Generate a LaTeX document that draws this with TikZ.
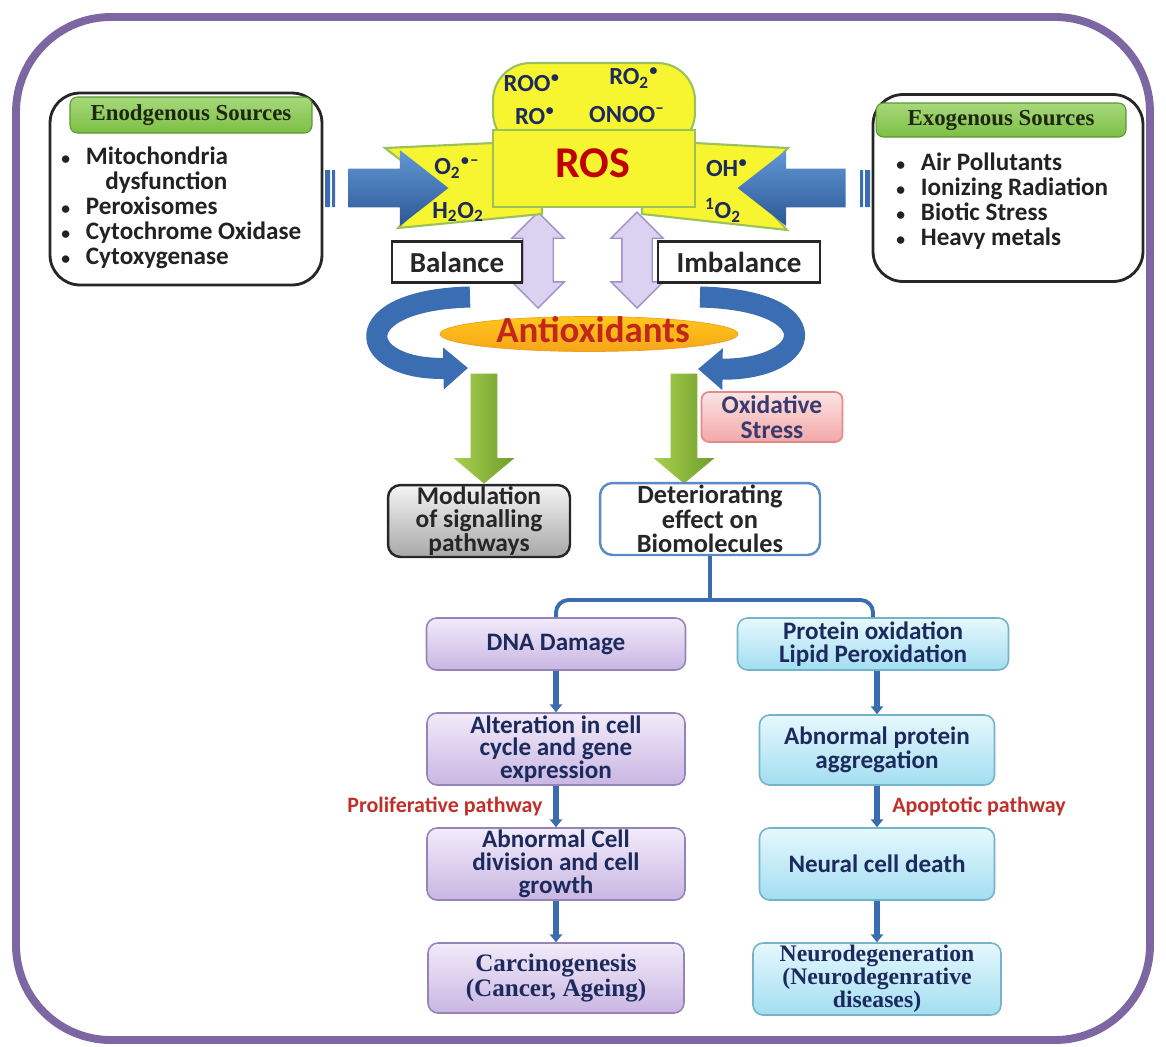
\documentclass[tikz,border=0pt]{standalone}
\usepackage{fontspec}
\setmainfont{Carlito}
\newfontfamily\headfont{Liberation Serif}
\usetikzlibrary{shapes.geometric,shapes.arrows,arrows.meta}

\definecolor{framepurple}{HTML}{7D67A3}
\definecolor{rosyellow}{HTML}{F7F52F}
\definecolor{rosedge}{HTML}{9CC15A}
\definecolor{rosred}{HTML}{C00000}
\definecolor{navy}{HTML}{1C2A5E}
\definecolor{headgreen}{HTML}{7DBF45}
\definecolor{headgreenlight}{HTML}{A6D97A}
\definecolor{headgreendark}{HTML}{5C9636}
\definecolor{headtext}{HTML}{1F2614}
\definecolor{listtext}{HTML}{222222}
\definecolor{inblue}{HTML}{3B6DB2}
\definecolor{inbluelight}{HTML}{6497D6}
\definecolor{inbluedark}{HTML}{2A5894}
\definecolor{lav}{HTML}{DBD1F0}
\definecolor{lavedge}{HTML}{9F90C6}
\definecolor{arrgreenlight}{HTML}{A9D150}
\definecolor{arrgreendark}{HTML}{6F9E2C}
\definecolor{oxtop}{HTML}{FCE4E4}
\definecolor{oxbottom}{HTML}{F3A7A7}
\definecolor{oxedge}{HTML}{E48A8A}
\definecolor{oxtext}{HTML}{3A3A6E}
\definecolor{modtop}{HTML}{F4F4F4}
\definecolor{modbottom}{HTML}{A8A8A8}
\definecolor{detedge}{HTML}{5B8BC5}
\definecolor{flowblue}{HTML}{3A6CB0}
\definecolor{purtop}{HTML}{F2EBFA}
\definecolor{purbottom}{HTML}{C9B6E2}
\definecolor{puredge}{HTML}{9584BA}
\definecolor{cyantop}{HTML}{E6F8FD}
\definecolor{cyanbottom}{HTML}{A2DEF1}
\definecolor{cyanedge}{HTML}{74B3CA}
\definecolor{pathred}{HTML}{C0302A}
\definecolor{antitop}{HTML}{FFC81A}
\definecolor{antibottom}{HTML}{F6A41A}
\definecolor{antiedge}{HTML}{EFA020}
\definecolor{antired}{HTML}{C3271C}

\newcommand{\lbul}{\makebox[14pt][l]{\fontsize{10}{10}\selectfont\textbullet}}
\newcommand{\rad}{$^{\bullet}$}

\begin{document}
\begin{tikzpicture}[x=0.02cm, y=-0.02cm,
    srcbox/.style={draw=black!85, line width=1.6pt, fill=white, rounded corners=0.6cm},
    srchead/.style={draw=headgreendark, line width=0.6pt, top color=headgreenlight, bottom color=headgreen,
      rounded corners=0.15cm, text=headtext, font=\headfont\bfseries\fontsize{13}{13}\selectfont},
    srclist/.style={align=left, inner sep=0pt, text=listtext, font=\bfseries\fontsize{14.3}{14.2}\selectfont},
    inarrow/.style={single arrow, inner xsep=0pt, inner ysep=0.38cm, minimum width=1.5cm,
      single arrow head extend=0.37cm, single arrow tip angle=76, draw=none,
      top color=inbluelight, bottom color=inbluedark},
    lavarrow/.style={double arrow, rotate=90, inner xsep=0pt, inner ysep=0.29cm, minimum width=1.02cm,
      double arrow head extend=0.22cm, fill=lav, draw=lavedge, line width=0.8pt},
    greenarrow/.style={single arrow, rotate=-90, inner xsep=0pt, inner ysep=0.26cm, minimum width=1.2cm,
      single arrow head extend=0.34cm, single arrow tip angle=100, left color=arrgreenlight,
      right color=arrgreendark, draw=none},
    rosshape/.style={fill=rosyellow, draw=rosedge, line width=1.2pt},
    statebox/.style={draw=black!85, line width=1.2pt, fill=white, minimum height=0.82cm,
      font=\bfseries\fontsize{16.5}{16.5}\selectfont, text=black!85},
    bentarrow/.style={draw=inblue, line width=12pt, -{Triangle[width=23pt,length=14pt]}},
    bracket/.style={draw=flowblue, line width=2.2pt, rounded corners=0.25cm},
    flow/.style={draw=flowblue, line width=3.4pt, -{Triangle[width=7pt,length=4.5pt]}},
    pathlabel/.style={text=pathred, font=\bfseries\fontsize{12.5}{12.5}\selectfont}
  ]
  \useasboundingbox (0,0) rectangle (1166,1046);
  \draw[framepurple, line width=4.5pt, rounded corners=1.9cm] (16,17) rectangle (1150,1040);

  \node[srcbox, minimum width=5.44cm, minimum height=3.84cm] (endo) at (186,189) {};
  \node[srchead, minimum width=4.84cm, minimum height=0.72cm] (endohead) at (191,115) {Enodgenous Sources};
  \node[srclist, anchor=west] (endolist) at (61,208) {%
    \lbul Mitochondria\\
    \hspace*{25pt}dysfunction\\
    \lbul Peroxisomes\\
    \lbul Cytochrome Oxidase\\
    \lbul Cytoxygenase};

  \node[srcbox, minimum width=5.4cm, minimum height=3.74cm] (exo) at (1008,188) {};
  \node[srchead, minimum width=5cm, minimum height=0.68cm] (exohead) at (1001,120) {Exogenous Sources};
  \node[srclist, anchor=west] (exolist) at (896,201) {%
    \lbul Air Pollutants\\
    \lbul Ionizing Radiation\\
    \lbul Biotic Stress\\
    \lbul Heavy metals};

  \node[lavarrow, minimum height=1.92cm] (balarr) at (538,260) {};
  \node[lavarrow, minimum height=1.92cm] (imbarr) at (637,260) {};

  \path[rosshape] (493,143) -- (385,148) -- (437,188) -- (398,228) -- (542,214) -- (542,190) -- cycle;
  \path[rosshape] (695,143) -- (788,148) -- (750,188) -- (787,230) -- (642,214) -- (642,190) -- cycle;
  \path[rosshape, rounded corners=0.75cm] (493,63) rectangle (695,150);
  \path[rosshape] (493,130) rectangle (695,207);

  \begin{scope}[every node/.style={text=navy, inner sep=0pt, font=\bfseries\fontsize{14}{14}\selectfont}]
    \node (roo)  at (532,83)  {ROO\rad};
    \node (ro2)  at (634,78)  {RO\textsubscript{2}\rad};
    \node (ro)   at (535,116) {RO\rad};
    \node (onoo) at (627,115) {ONOO\textsuperscript{--}};
    \node (o2)   at (457,168) {O\textsubscript{2}\rad\textsuperscript{--}};
    \node (h2o2) at (458,212) {H\textsubscript{2}O\textsubscript{2}};
    \node (oh)   at (727,168) {OH\rad};
    \node (sing) at (723,210) {\textsuperscript{1}O\textsubscript{2}};
  \end{scope}
  \node[text=rosred, font=\bfseries\fontsize{25}{25}\selectfont] (ros) at (593,163) {ROS};

  \node[inarrow, minimum height=2cm] (endoin) at (386,188) {};
  \node[inarrow, minimum height=2.16cm, rotate=180] (exoin) at (804,188) {};
  \fill[inblue] (325,170) rectangle (330,207) (332,170) rectangle (335,207);
  \fill[inblue] (860,170) rectangle (863,207) (865,170) rectangle (870,207);

  \node[statebox, minimum width=2.6cm] (bal) at (457,262) {Balance};
  \node[statebox, minimum width=3.24cm] (imb) at (739,262) {Imbalance};

  \coordinate (balfrom) at (470,297);
  \coordinate (balto) at (468,368);
  \coordinate (imbfrom) at (700,297);
  \coordinate (imbto) at (698,369);
  \draw[bentarrow] (balfrom) .. controls (345,300) and (355,370) .. (balto);
  \draw[bentarrow] (imbfrom) .. controls (830,300) and (815,370) .. (imbto);

  \node[ellipse, minimum width=5.96cm, minimum height=0.7cm, inner sep=0pt, top color=antitop,
    bottom color=antibottom, draw=antiedge] (antishape) at (589,334) {};
  \node[text=antired, font=\bfseries\fontsize{21}{21}\selectfont] (anti) at (593,330) {Antioxidants};

  \node[greenarrow, minimum height=2.2cm] (balgreen) at (484,423) {};
  \node[greenarrow, minimum height=2.2cm] (imbgreen) at (684,423) {};

  \node[draw=oxedge, line width=1pt, top color=oxtop, bottom color=oxbottom, rounded corners=0.15cm,
    minimum width=2.82cm, minimum height=1cm, align=center, text=oxtext, inner sep=0pt,
    font=\bfseries\fontsize{14.5}{14.5}\selectfont] (ox) at (772,417) {Oxidative\\Stress};

  \node[draw=black!85, line width=1.4pt, top color=modtop, bottom color=modbottom, rounded corners=0.25cm,
    minimum width=3.64cm, minimum height=1.44cm, align=center, inner sep=0pt, text=black!85,
    font=\bfseries\fontsize{14.5}{13.2}\selectfont] (mod) at (479,521) {Modulation\\of signalling\\pathways};
  \node[draw=detedge, line width=1.4pt, fill=white, rounded corners=0.25cm,
    minimum width=4.4cm, minimum height=1.44cm, align=center, inner sep=0pt, text=black!85,
    font=\bfseries\fontsize{15}{13.8}\selectfont] (det) at (710,519) {Deteriorating\\effect on\\Biomolecules};

  \begin{scope}[every node/.style={draw=puredge, line width=0.9pt, top color=purtop, bottom color=purbottom,
      rounded corners=0.2cm, align=center, inner sep=0pt, text=navy, font=\bfseries\fontsize{14.3}{13}\selectfont}]
    \node[minimum width=5.18cm, minimum height=1.04cm] (dna) at (556,644) {DNA Damage};
    \node[minimum width=5.16cm, minimum height=1.44cm] (alt) at (556,749) {Alteration in cell\\cycle and gene\\expression};
    \node[minimum width=5.16cm, minimum height=1.44cm] (acd) at (556,864) {Abnormal Cell\\division and cell\\growth};
    \node[minimum width=5.12cm, minimum height=1.4cm, font=\headfont\bfseries\fontsize{14.3}{14}\selectfont]
      (carc) at (556,978) {Carcinogenesis\\(Cancer, Ageing)};
  \end{scope}

  \begin{scope}[every node/.style={draw=cyanedge, line width=0.9pt, top color=cyantop, bottom color=cyanbottom,
      rounded corners=0.2cm, align=center, inner sep=0pt, text=navy, font=\bfseries\fontsize{14.3}{13.5}\selectfont}]
    \node[minimum width=5.42cm, minimum height=1.04cm] (prot) at (873,644) {Protein oxidation\\Lipid Peroxidation};
    \node[minimum width=4.7cm, minimum height=1.4cm] (apa) at (877,750) {Abnormal protein\\aggregation};
    \node[minimum width=4.7cm, minimum height=1.44cm] (ncd) at (877,864) {Neural cell death};
    \node[minimum width=4.96cm, minimum height=1.44cm, font=\headfont\bfseries\fontsize{13.5}{13}\selectfont]
      (neuro) at (877,979) {Neurodegeneration\\(Neurodegenrative\\diseases)};
  \end{scope}

  \coordinate (split) at (710,600);
  \draw[bracket] (det.south) -- (split);
  \draw[bracket] (dna.north) |- (split) -| (prot.north);

  \begin{scope}[every edge/.style={flow}]
    \path (dna) edge (alt);
    \path (alt) edge node[pathlabel, left, inner sep=6pt] {Proliferative pathway} (acd);
    \path (acd) edge (carc);
    \path (prot.south -| apa) edge (apa);
    \path (apa) edge node[pathlabel, right, inner sep=7pt] {Apoptotic pathway} (ncd);
    \path (ncd) edge (neuro);
  \end{scope}
\end{tikzpicture}
\end{document}
